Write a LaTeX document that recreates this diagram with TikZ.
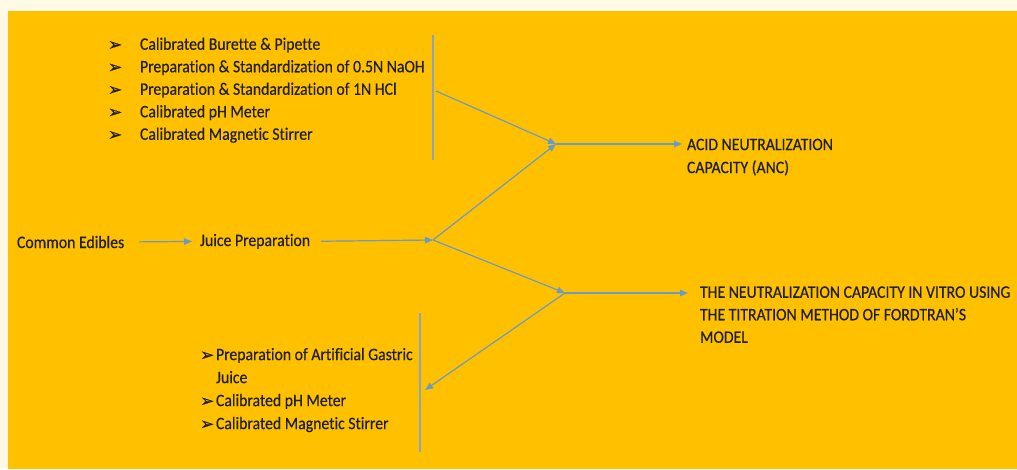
\documentclass[tikz,border=0pt]{standalone}
\usepackage{fontspec}
\setmainfont[FakeStretch=0.9,FakeBold=0.4,Ligatures={NoCommon}]{Carlito}
\newfontfamily\dejavu[FakeBold=0.6]{DejaVu Sans}
\usetikzlibrary{arrows.meta}
\definecolor{cream}{RGB}{255,249,230}
\definecolor{gold}{RGB}{255,192,0}
\definecolor{flow}{RGB}{105,155,200}
\definecolor{vline}{RGB}{140,165,190}
\newcommand\bulx[1]{\makebox[#1][l]{\raisebox{-0.5pt}{\dejavu\fontsize{17}{17}\selectfont ➢}}}
\tikzset{
  txt/.style={inner sep=0pt, outer sep=0pt, font=\fontsize{17.5}{22.5}\selectfont, text=black!88},
  arr/.style={draw=flow, line width=1.2pt, -{Triangle[length=8pt,width=6.5pt]}},
  plain/.style={draw=vline, line width=1.2pt},
}
\begin{document}
\begin{tikzpicture}[x=1pt,y=-1pt]
\useasboundingbox (0,0) rectangle (1017,469);
\fill[cream] (0,0) rectangle (1017,469);
\fill[gold] (8,11) rectangle (1017,469);

% text nodes
\node[txt, anchor=north west] (toplist) at (108,34) {%
\begin{tabular}{@{}l@{}}
\bulx{32pt}Calibrated Burette \& Pipette\\
\bulx{32pt}Preparation \& Standardization of 0.5N NaOH\\
\bulx{32pt}Preparation \& Standardization of 1N HCl\\
\bulx{32pt}Calibrated pH Meter\\
\bulx{32pt}Calibrated Magnetic Stirrer
\end{tabular}};

\node[txt, anchor=base west] (ce) at (17,248) {Common Edibles};
\node[txt, anchor=base west] (jp) at (200,246) {Juice Preparation};

\node[txt, anchor=north west, font=\fontsize{17.5}{23}\selectfont] (anc) at (687,134) {%
\begin{tabular}{@{}l@{}}
ACID NEUTRALIZATION\\
CAPACITY (ANC)
\end{tabular}};

\node[txt, anchor=north west] (neut) at (700,282) {%
\begin{tabular}{@{}l@{}}
THE NEUTRALIZATION CAPACITY IN VITRO USING\\
THE TITRATION METHOD OF FORDTRAN’S\\
MODEL
\end{tabular}};

\node[txt, anchor=north west, font=\fontsize{17.5}{23}\selectfont] (lowlist) at (200,344) {%
\begin{tabular}{@{}l@{}}
\bulx{16pt}Preparation of Artificial Gastric\\
\hspace*{16pt}Juice\\
\bulx{16pt}Calibrated pH Meter\\
\bulx{16pt}Calibrated Magnetic Stirrer
\end{tabular}};

% junction coordinates
\coordinate (J1) at (433,240);
\coordinate (A) at (556,144);
\coordinate (B) at (565,293);
\coordinate (T1) at (433,35);
\coordinate (T2) at (433,160);
\coordinate (TS) at (436,91);
\coordinate (L1) at (420,313);
\coordinate (L2) at (420,452);
\coordinate (LE) at (425,390);

% bracket lines
\draw[plain] (T1) -- (T2);
\draw[plain] (L1) -- (L2);

% connectors
\draw[arr, shorten <=15pt, shorten >=8pt] (ce.east) -- (jp.west);
\draw[arr, shorten <=11pt] (jp.east) -- (J1);
\draw[arr] (TS) -- (A);
\draw[arr] (J1) -- (A);
\draw[arr] (J1) -- (B);
\draw[arr] (B) -- (LE);
\draw[arr, shorten >=5pt] (A) -- (A -| anc.west);
\draw[arr, shorten >=12pt] (B) -- (B -| neut.west);
\end{tikzpicture}
\end{document}
